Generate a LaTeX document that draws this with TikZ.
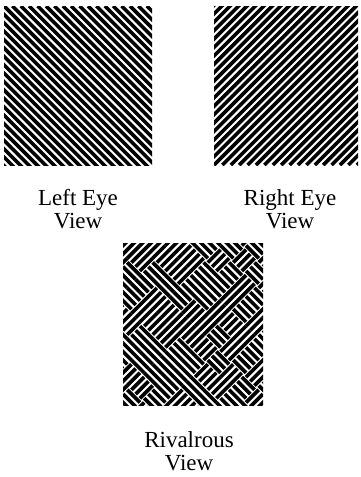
\documentclass[tikz,border=0pt]{standalone}
\usepackage{fontspec}
\setmainfont{Liberation Serif}
\usepackage{tikz}
\tikzset{stripe/.style={line width=3.6pt},
  lbl/.style={font=\fontsize{23}{23}\selectfont,align=center,inner sep=0pt}}
\newcommand{\pp}{8.4}
% stripes falling to the right, clipped to a box
\newcommand{\sback}[4]{%
  \begin{scope}
  \clip (#1,#2) rectangle (#3,#4);
  \foreach \k in {-20,...,20}{\draw[stripe] ({#1+\k*\pp},#2) -- ++(180,180);}
  \end{scope}}
% stripes rising to the right
\newcommand{\sfwd}[4]{%
  \begin{scope}
  \clip (#1,#2) rectangle (#3,#4);
  \foreach \k in {-20,...,20}{\draw[stripe] ({#1+\k*\pp},#4) -- ++(180,-180);}
  \end{scope}}
% patchwork of both orientations
\newcommand{\smix}[4]{%
  \begin{scope}
  \clip (#1,#2) rectangle (#3,#4);
  \pgfmathsetseed{11}
  \begin{scope}[shift={({(#1+#3)/2},{(#2+#4)/2})},rotate=45]
  \foreach \i in {-6,...,5}{\foreach \j in {-6,...,5}{%
    \pgfmathrandominteger{\o}{0}{1}
    \ifnum\o=0
      \foreach \m in {0,1,2}{\draw[stripe] ({\i*18},{\j*18+3+6*\m}) -- ++(18,0);}
    \else
      \foreach \m in {0,1,2}{\draw[stripe] ({\i*18+3+6*\m},{\j*18}) -- ++(0,18);}
    \fi}}
  \end{scope}
  \end{scope}}

\begin{document}
\begin{tikzpicture}[x=1pt,y=-1pt]
  \useasboundingbox (0,0) rectangle (360,477);
  \sback{4}{6}{152}{165}
  \sfwd{214}{6}{358}{165}
  \smix{123}{243}{263}{405}
  \node[lbl] (lefttxt) at (78,209) {Left Eye\\View};
  \node[lbl] (righttxt) at (290,209) {Right Eye\\View};
  \node[lbl] (rivtxt) at (189,451) {Rivalrous\\View};
\end{tikzpicture}
\end{document}
